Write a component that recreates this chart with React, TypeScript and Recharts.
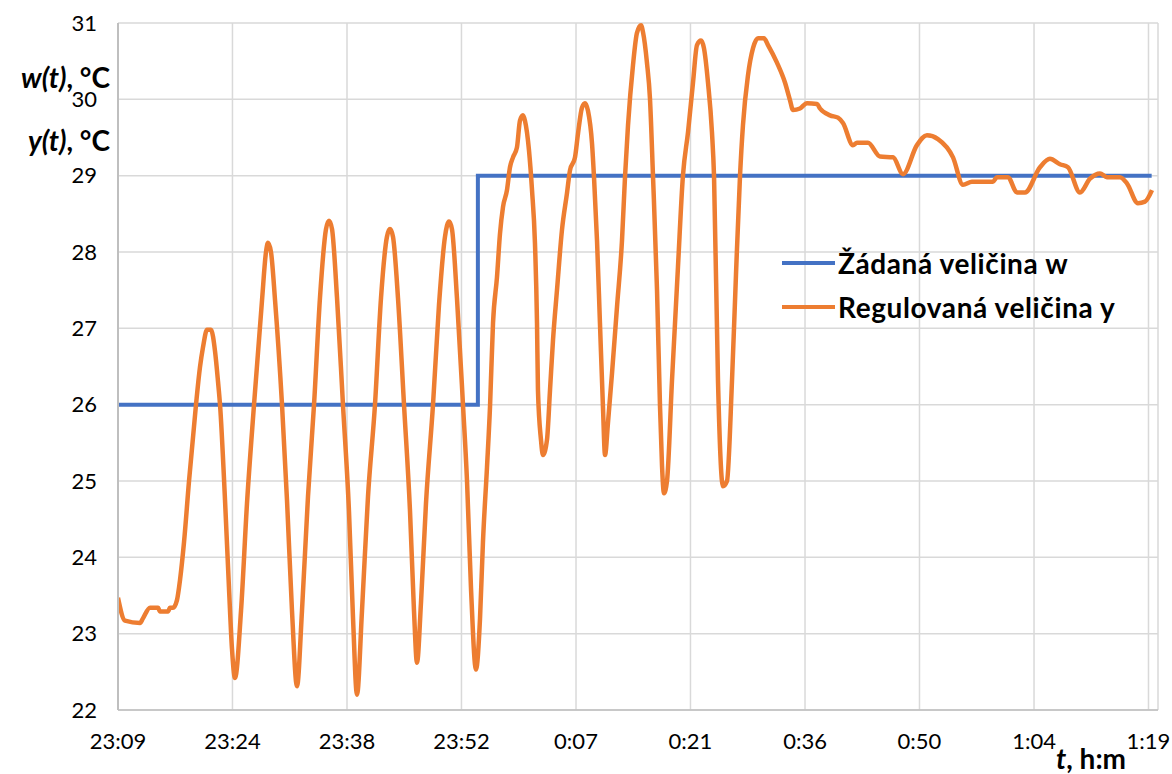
import React from "react";
import { LineChart, Line, XAxis, YAxis, CartesianGrid, Legend } from "recharts";

// x axis in minutes after 23:09
const tickMinutes = [0, 14.44, 28.89, 43.33, 57.78, 72.22, 86.67, 101.11, 115.56, 130];
const tickLabels = ["23:09", "23:24", "23:38", "23:52", "0:07", "0:21", "0:36", "0:50", "1:04", "1:19"];
const yTicks = [22, 23, 24, 25, 26, 27, 28, 29, 30, 31];

// žádaná veličina w
const setpointTime = [0, 45.4, 45.4, 130.4];
const setpointValue = [26, 26, 29, 29];

// regulovaná veličina y
const outputTime = [
  0, 0.88, 2.78, 3.15, 4.04, 5.05, 5.3, 6.31, 6.56, 6.94, 7.44, 7.82, 8.33, 8.96, 9.84, 10.34, 10.72, 11.23,
  11.73, 12.24, 12.62, 12.87, 13.5, 14.0, 14.38, 14.76, 15.52, 16.27, 17.16, 18.17, 18.67, 18.92, 19.3, 19.81,
  20.69, 21.32, 21.95, 22.58, 23.21, 23.97, 24.73, 25.48, 26.24, 26.62, 27.0, 27.63, 28.38, 29.14, 29.65, 30.15,
  30.78, 31.54, 32.42, 33.18, 33.93, 34.31, 34.69, 35.32, 36.08, 36.84, 37.34, 37.72, 38.22, 38.85, 39.74, 40.49,
  41.25, 41.76, 42.13, 42.76, 43.52, 44.03, 44.53, 45.16, 45.67, 46.04, 46.55, 46.93, 47.31, 47.81, 48.19, 48.57,
  49.07, 49.45, 49.83, 50.33, 50.71, 51.09, 51.34, 51.85, 52.23, 52.6, 52.86, 52.98, 53.36, 53.61, 54.12, 54.5,
  54.88, 55.38, 56.01, 56.64, 57.02, 57.65, 58.03, 58.53, 58.91, 59.29, 59.8, 60.05, 60.43, 60.8, 61.18, 61.44,
  61.81, 62.32, 62.95, 63.58, 63.96, 64.34, 64.97, 65.47, 65.98, 66.23, 66.73, 67.11, 67.49, 68.0, 68.37, 68.63,
  68.88, 69.26, 69.89, 70.64, 71.27, 71.91, 72.54, 73.04, 73.55, 73.92, 74.43, 74.93, 75.19, 75.69, 76.19, 76.32,
  76.83, 77.46, 77.96, 78.47, 78.84, 79.47, 80.11, 80.74, 81.49, 82.0, 83.13, 84.14, 84.77, 85.15, 86.03, 86.92,
  88.18, 88.56, 89.82, 90.83, 91.46, 92.72, 93.22, 94.61, 96.13, 97.77, 99.03, 100.79, 102.05, 103.44, 105.34,
  106.6, 107.73, 110.38, 110.89, 112.27, 113.41, 114.42, 116.31, 117.57, 118.83, 119.84, 121.36, 122.62, 123.88,
  124.76, 126.4, 127.28, 128.67, 129.56, 130.44,
];
const outputValue = [
  23.47, 23.17, 23.14, 23.2, 23.34, 23.34, 23.29, 23.29, 23.34, 23.34, 23.44, 23.7, 24.2, 25.0, 26.0, 26.49, 26.75, 26.98,
  26.98, 26.7, 26.3, 26.0, 24.75, 23.6, 22.8, 22.42, 23.3, 24.7, 26.0, 27.37, 28.0, 28.12, 28.0, 27.37,
  26.0, 24.75, 23.3, 22.31, 23.3, 24.8, 26.0, 27.4, 28.3, 28.41, 28.3, 27.4, 26.0, 24.6, 23.2, 22.2,
  23.3, 24.8, 26.0, 27.4, 28.2, 28.3, 28.2, 27.4, 26.0, 24.6, 23.3, 22.62, 23.4, 24.7, 26.0, 27.3,
  28.2, 28.4, 28.3, 27.4, 26.0, 25.0, 23.6, 22.53, 23.2, 24.2, 25.18, 25.97, 27.07, 27.67, 28.24, 28.59,
  28.81, 29.11, 29.24, 29.37, 29.72, 29.79, 29.72, 29.33, 28.81, 28.12, 27.07, 26.19, 25.54, 25.34, 25.54, 26.19,
  26.85, 27.5, 28.29, 28.77, 29.07, 29.24, 29.55, 29.89, 29.95, 29.85, 29.42, 28.98, 28.15, 27.07, 25.97, 25.34,
  25.76, 26.41, 27.28, 28.15, 28.98, 29.66, 30.45, 30.87, 30.97, 30.88, 30.48, 30.01, 29.0, 27.5, 26.0, 25.2,
  24.84, 25.0, 26.32, 27.8, 29.0, 29.57, 30.22, 30.71, 30.77, 30.67, 30.22, 29.57, 29.0, 26.32, 25.0, 24.93,
  25.0, 26.32, 27.7, 29.0, 29.66, 30.31, 30.67, 30.8, 30.8, 30.71, 30.48, 30.22, 29.99, 29.86, 29.88, 29.95,
  29.94, 29.88, 29.79, 29.76, 29.69, 29.4, 29.43, 29.43, 29.25, 29.24, 29.02, 29.4, 29.53, 29.48, 29.24,
  28.88, 28.92, 28.92, 28.98, 28.98, 28.78, 28.78, 29.11, 29.22, 29.15, 29.11, 28.78, 28.96, 29.03,
  28.98, 28.98, 28.9, 28.64, 28.66, 28.81,
];

const setpointData = setpointTime.map((t, i) => ({ t, w: setpointValue[i] }));
const outputData = outputTime.map((t, i) => ({ t, y: outputValue[i] }));

const BLUE = "#4472C4";
const ORANGE = "#ED7D31";
const FONT = "Lato, 'Noto Sans', sans-serif";

const legendItems = [
  { name: "Žádaná veličina w", color: BLUE },
  { name: "Regulovaná veličina y", color: ORANGE },
];

function LegendBox() {
  return (
    <div style={{ fontFamily: FONT, fontWeight: 700, fontSize: 28, color: "#000", letterSpacing: 0.6 }}>
      {legendItems.map((it) => (
        <div key={it.name} style={{ display: "flex", alignItems: "center", height: 44, whiteSpace: "nowrap" }}>
          <span style={{ display: "inline-block", width: 53, height: 4, background: it.color, marginRight: 3 }} />
          <span>{it.name}</span>
        </div>
      ))}
    </div>
  );
}

export default function App() {
  return (
    <div style={{ position: "relative", width: 1172, height: 774, background: "#fff" }}>
      <style>{`body{margin:0;}`}</style>
      <LineChart width={1172} height={774} margin={{ top: 23, right: 14, left: 0, bottom: 0 }}>
        <CartesianGrid stroke="#D9D9D9" strokeWidth={1.5} />
        <XAxis
          type="number"
          dataKey="t"
          domain={[0, 131.2]}
          ticks={tickMinutes}
          allowDataOverflow
          tickFormatter={(_v, i) => tickLabels[i]}
          tick={{ fontSize: 22, fill: "#000", fontFamily: FONT }}
          tickLine={false}
          tickMargin={17}
          height={64}
          axisLine={{ stroke: "#BFBFBF", strokeWidth: 1.5 }}
        />
        <YAxis
          type="number"
          domain={[22, 31]}
          ticks={yTicks}
          tick={{ fontSize: 22, fill: "#000", fontFamily: FONT }}
          tickLine={false}
          tickMargin={15}
          width={118}
          axisLine={{ stroke: "#BFBFBF", strokeWidth: 2 }}
        />
        <Legend
          layout="vertical"
          align="center"
          verticalAlign="middle"
          wrapperStyle={{ left: 782, top: 241, width: 390 }}
          content={() => <LegendBox />}
        />
        <Line
          data={setpointData}
          dataKey="w"
          type="linear"
          stroke={BLUE}
          strokeWidth={4}
          dot={false}
          isAnimationActive={false}
        />
        <Line
          data={outputData}
          dataKey="y"
          type="monotone"
          stroke={ORANGE}
          strokeWidth={4.5}
          dot={false}
          isAnimationActive={false}
        />
      </LineChart>
      <div
        style={{
          position: "absolute",
          right: 1172 - 110,
          top: 62,
          fontFamily: FONT,
          fontWeight: 700,
          fontSize: 28,
          whiteSpace: "nowrap",
          textAlign: "right",
          lineHeight: "30px",
        }}
      >
        <div>
          <i>w(t)</i>, °C
        </div>
        <div style={{ marginTop: 33 }}>
          <i>y(t)</i>, °C
        </div>
      </div>
      <div
        style={{
          position: "absolute",
          left: 1056,
          top: 744,
          fontFamily: FONT,
          fontWeight: 700,
          fontSize: 28,
          whiteSpace: "nowrap",
          lineHeight: "28px",
        }}
      >
        <i>t</i>, h:m
      </div>
    </div>
  );
}
